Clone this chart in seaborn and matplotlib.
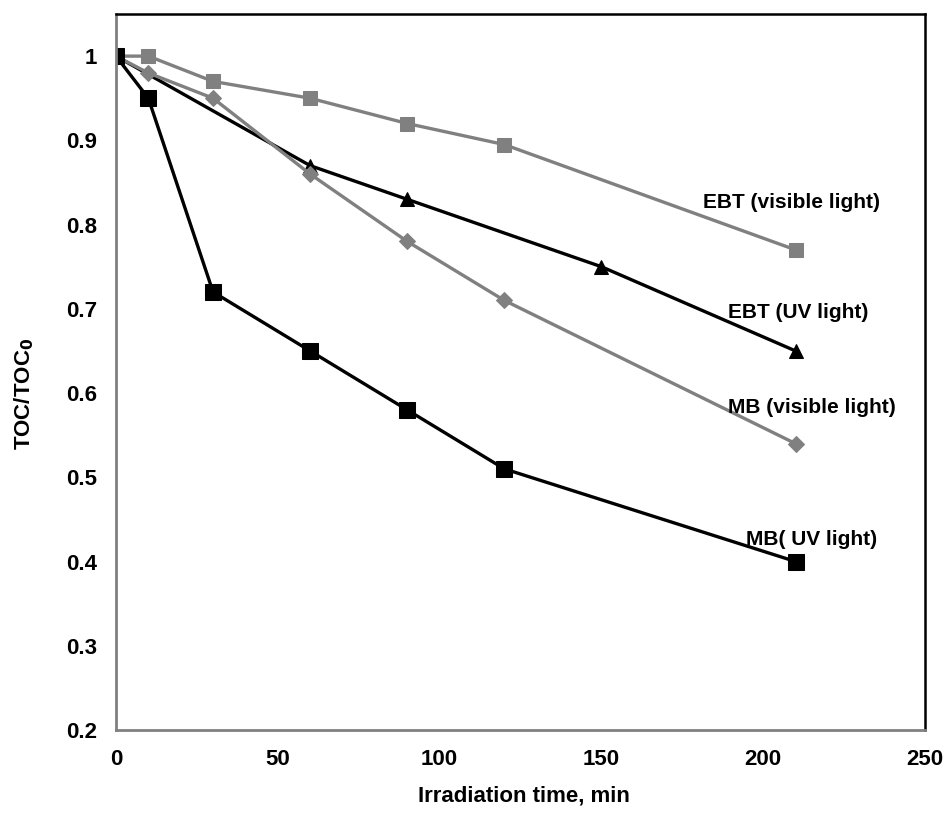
import pandas as pd
import matplotlib
matplotlib.use("Agg")
import matplotlib.pyplot as plt
import seaborn as sns

# ---- data ----
t_full = [0, 10, 30, 60, 90, 120, 210]
t_ebt_uv = [0, 60, 90, 150, 210]

ebt_vis = [1.0, 1.0, 0.97, 0.95, 0.92, 0.895, 0.77]
ebt_uv = [1.0, 0.87, 0.83, 0.75, 0.65]
mb_vis = [1.0, 0.98, 0.95, 0.86, 0.78, 0.71, 0.54]
mb_uv = [1.0, 0.95, 0.72, 0.65, 0.58, 0.51, 0.40]

labels = ["EBT (visible light)", "EBT (UV light)",
          "MB (visible light)", "MB( UV light)"]
label_pos = [(208.6, 0.826), (210.8, 0.696), (215.1, 0.583), (215.1, 0.426)]

GRAY = '#808080'
BLACK = '#000000'

sns.set_style("white")
plt.rcParams['font.family'] = ['Liberation Sans', 'DejaVu Sans']
plt.rcParams['font.weight'] = 'bold'
plt.rcParams['text.color'] = BLACK
plt.rcParams['axes.labelcolor'] = BLACK

fig = plt.figure(figsize=(9.49, 8.14), dpi=100)
ax = fig.add_axes([0.1222, 0.1032, 0.8525, 0.8796])

# --- the four series ---
series = [
    (t_full, ebt_vis, GRAY, 's', 9.5),
    (t_ebt_uv, ebt_uv, BLACK, '^', 10.5),
    (t_full, mb_vis, GRAY, 'D', 8.5),
    (t_full, mb_uv, BLACK, 's', 11),
]
for xs, ys, col, mk, ms in series:
    df = pd.DataFrame({'t': xs, 'v': ys})
    sns.lineplot(data=df, x='t', y='v', ax=ax, color=col, marker=mk,
                 markersize=ms, markeredgecolor=col, linewidth=2.4,
                 sort=False, legend=False)

for txt, (x, y) in zip(labels, label_pos):
    ax.text(x, y, txt, ha='center', va='center', fontsize=15,
            fontweight='bold', color=BLACK)

# --- axes ---
ax.set_xlim(0, 250)
ax.set_ylim(0.2, 1.05)
ax.set_xticks([0, 50, 100, 150, 200, 250])
ax.set_yticks([0.2, 0.3, 0.4, 0.5, 0.6, 0.7, 0.8, 0.9, 1.0])
ax.set_yticklabels(['0.2', '0.3', '0.4', '0.5', '0.6', '0.7',
                    '0.8', '0.9', '1'])
ax.set_xlabel('Irradiation time, min', fontsize=16, fontweight='bold')
ax.set_ylabel('TOC/TOC$_\\mathbf{0}$', fontsize=16, fontweight='bold')
ax.xaxis.set_label_coords(0.504, -0.077)
ax.yaxis.set_label_coords(-0.099, 0.469)

ax.tick_params(axis='both', direction='out', length=5, width=1.5,
               color=GRAY, labelsize=16, labelcolor=BLACK, pad=8.5)
for lab in ax.get_xticklabels() + ax.get_yticklabels():
    lab.set_fontweight('bold')

for side in ['left', 'bottom']:
    ax.spines[side].set_color(GRAY)
    ax.spines[side].set_linewidth(2)
for side in ['top', 'right']:
    ax.spines[side].set_color(BLACK)
    ax.spines[side].set_linewidth(1.8)
    ax.spines[side].set_visible(True)

fig.savefig('out.png', dpi=100)
